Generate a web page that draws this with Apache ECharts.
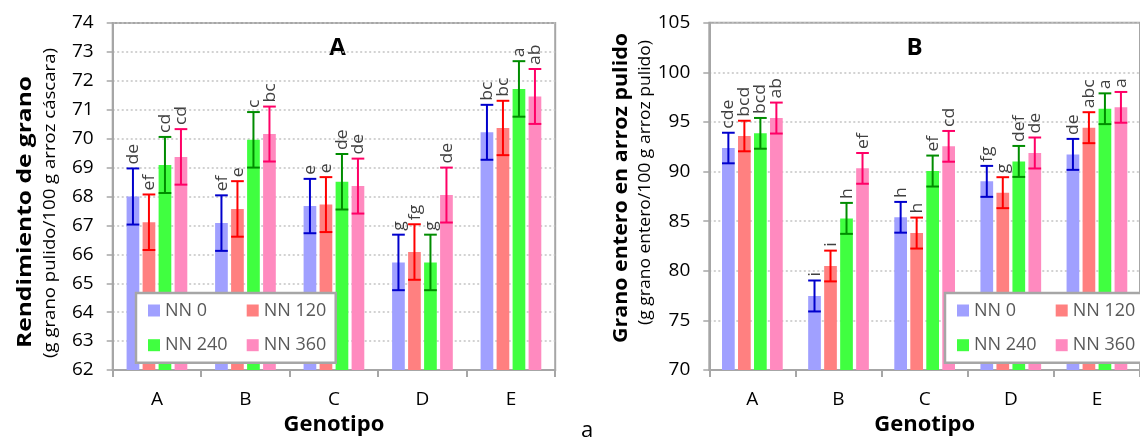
<!DOCTYPE html>
<html><head><meta charset="utf-8">
<script src="https://cdn.jsdelivr.net/npm/echarts@6/dist/echarts.min.js"></script>
<style>html,body{margin:0;padding:0;background:#fff;overflow:hidden}#c{width:1140px;height:444px}</style>
</head><body><div id="c"></div>
<script>
// ---------- data ----------
const categories = ['A', 'B', 'C', 'D', 'E'];
const seriesNames = ['NN 0', 'NN 120', 'NN 240', 'NN 360'];

// Panel A: Rendimiento de grano
const rendNN0   = [68.00, 67.08, 67.67, 65.72, 70.22];
const rendNN120 = [67.11, 67.57, 67.72, 66.08, 70.37];
const rendNN240 = [69.09, 69.96, 68.51, 65.72, 71.72];
const rendNN360 = [69.37, 70.16, 68.36, 68.05, 71.46];
const rendErr0   = [0.97, 0.96, 0.94, 0.96, 0.95];
const rendErr120 = [0.96, 0.96, 0.95, 0.96, 0.94];
const rendErr240 = [0.97, 0.96, 0.96, 0.96, 0.96];
const rendErr360 = [0.96, 0.95, 0.95, 0.95, 0.95];
const rendLab0   = ['de', 'ef', 'e', 'g', 'bc'];
const rendLab120 = ['ef', 'e', 'e', 'fg', 'bc'];
const rendLab240 = ['cd', 'c', 'de', 'g', 'a'];
const rendLab360 = ['cd', 'bc', 'de', 'de', 'ab'];

// Panel B: Grano entero en arroz pulido
const enteroNN0   = [92.37, 77.46, 85.39, 89.01, 91.73];
const enteroNN120 = [93.58, 80.48, 83.80, 87.87, 94.42];
const enteroNN240 = [93.85, 85.28, 90.05, 91.02, 96.33];
const enteroNN360 = [95.39, 90.32, 92.54, 91.87, 96.47];
const enteroErr0   = [1.54, 1.56, 1.55, 1.56, 1.56];
const enteroErr120 = [1.54, 1.55, 1.56, 1.56, 1.56];
const enteroErr240 = [1.55, 1.56, 1.56, 1.56, 1.55];
const enteroErr360 = [1.56, 1.55, 1.55, 1.56, 1.55];
const enteroLab0   = ['cde', 'i', 'h', 'fg', 'de'];
const enteroLab120 = ['bcd', 'i', 'h', 'g', 'abc'];
const enteroLab240 = ['bcd', 'h', 'ef', 'def', 'a'];
const enteroLab360 = ['ab', 'ef', 'cd', 'de', 'a'];

const axisTicksA = {min: 62, max: 74, interval: 1};
const axisTicksB = {min: 70, max: 105, interval: 5};

// ---------- style ----------
const FONT = '"Open Sans", "Liberation Sans", sans-serif';
const barColors = ['#A0A0FF', '#FF8080', '#40FF40', '#FF8ABF'];
const errColors = ['#0000CC', '#FF0000', '#008C00', '#FF0066'];
const BAR_W = 12.7, GAP = 0.26;
const GRAY = '#A6A6A6';

function measure(txt, font) {
  const ctx = document.createElement('canvas').getContext('2d');
  ctx.font = font;
  return ctx.measureText(txt).width;
}

function barSeries(g, k, vals) {
  return {
    type: 'bar', name: seriesNames[k], xAxisIndex: g, yAxisIndex: g,
    data: vals, barWidth: BAR_W, barGap: (GAP * 100) + '%',
    itemStyle: {color: barColors[k]}, z: 2, silent: true
  };
}

function errSeries(g, k, vals, errs, labs) {
  return {
    type: 'custom', name: 'err' + g + k, xAxisIndex: g, yAxisIndex: g, z: 5, silent: true,
    encode: {x: 0, y: 1},
    data: vals.map((v, i) => [i, v, errs[i]]),
    renderItem: function (params, api) {
      const i = api.value(0), v = api.value(1), e = api.value(2);
      const hi = api.coord([i, v + e]), lo = api.coord([i, v - e]);
      const x = hi[0] + (k - 1.5) * BAR_W * (1 + GAP);
      const hw = BAR_W / 2;
      const ls = {stroke: errColors[k], lineWidth: 2};
      return {
        type: 'group',
        children: [
          {type: 'line', shape: {x1: x, y1: hi[1], x2: x, y2: lo[1]}, style: ls},
          {type: 'line', shape: {x1: x - hw, y1: hi[1], x2: x + hw, y2: hi[1]}, style: ls},
          {type: 'line', shape: {x1: x - hw, y1: lo[1], x2: x + hw, y2: lo[1]}, style: ls},
          {type: 'text', x: x + 0.5, y: hi[1] - 4, rotation: Math.PI / 2, scaleX: 1.1,
           style: {text: labs[params.dataIndex], fill: '#404040', font: '16px ' + FONT,
                   align: 'left', verticalAlign: 'middle'}}
        ]
      };
    }
  };
}

function xAxisCfg(g) {
  return {
    gridIndex: g, type: 'category', data: categories, boundaryGap: true,
    axisLine: {lineStyle: {color: GRAY, width: 2}},
    axisTick: {show: true, length: 7, lineStyle: {color: GRAY, width: 2}},
    axisLabel: {fontSize: 19, color: '#000', margin: 20, fontFamily: FONT},
    name: 'Genotipo', nameLocation: 'middle', nameGap: 43,
    nameTextStyle: {fontSize: 22, fontWeight: 'bold', color: '#000', fontFamily: FONT}
  };
}
function yAxisCfg(g, t) {
  return {
    gridIndex: g, type: 'value', min: t.min, max: t.max, interval: t.interval,
    axisLine: {show: true, lineStyle: {color: GRAY, width: 2}},
    axisTick: {show: true, length: 6, lineStyle: {color: GRAY, width: 1.5}},
    axisLabel: {fontSize: 19, color: '#000', margin: 19, fontFamily: FONT},
    splitLine: {show: true, lineStyle: {color: '#C4C4C4', width: 1.5, type: [2, 2.5]}}
  };
}
function legendCfg(left) {
  return {
    data: seriesNames, left: left, top: 293, width: 190, orient: 'horizontal',
    itemWidth: 12, itemHeight: 12, itemGap: 11.7, icon: 'rect',
    padding: [6, 2, 6, 12], backgroundColor: '#fff', borderColor: GRAY, borderWidth: 2.5,
    selectedMode: false,
    textStyle: {fontFamily: FONT, fontSize: 18, color: '#595959', width: 70, lineHeight: 23}
  };
}

function vTitle(text, cx, cy, len, font) {
  const s = len / measure(text, font);
  return {
    type: 'text', x: cx, y: cy, rotation: Math.PI / 2, scaleX: s,
    style: {text: text, font: font, fill: '#000', align: 'center', verticalAlign: 'middle'}
  };
}

const boldF = 'bold 20px ' + FONT;
const subF = '16px ' + FONT;

const option = {
  animation: false,
  backgroundColor: '#fff',
  grid: [
    {left: 112.7, top: 23, width: 442.5, height: 347, show: true, borderColor: GRAY, borderWidth: 2, containLabel: false},
    {left: 709.3, top: 22.7, width: 442.5, height: 347.3, show: true, borderColor: GRAY, borderWidth: 2, containLabel: false}
  ],
  xAxis: [xAxisCfg(0), xAxisCfg(1)],
  yAxis: [yAxisCfg(0, axisTicksA), yAxisCfg(1, axisTicksB)],
  legend: [legendCfg(136), legendCfg(945)],
  series: [
    barSeries(0, 0, rendNN0), barSeries(0, 1, rendNN120), barSeries(0, 2, rendNN240), barSeries(0, 3, rendNN360),
    barSeries(1, 0, enteroNN0), barSeries(1, 1, enteroNN120), barSeries(1, 2, enteroNN240), barSeries(1, 3, enteroNN360),
    errSeries(0, 0, rendNN0, rendErr0, rendLab0), errSeries(0, 1, rendNN120, rendErr120, rendLab120),
    errSeries(0, 2, rendNN240, rendErr240, rendLab240), errSeries(0, 3, rendNN360, rendErr360, rendLab360),
    errSeries(1, 0, enteroNN0, enteroErr0, enteroLab0), errSeries(1, 1, enteroNN120, enteroErr120, enteroLab120),
    errSeries(1, 2, enteroNN240, enteroErr240, enteroLab240), errSeries(1, 3, enteroNN360, enteroErr360, enteroLab360)
  ],
  graphic: [
    {type: 'text', x: 337.5, y: 48, style: {text: 'A', font: 'bold 24px ' + FONT, fill: '#000', align: 'center', verticalAlign: 'middle'}},
    {type: 'text', x: 914.5, y: 48, style: {text: 'B', font: 'bold 24px ' + FONT, fill: '#000', align: 'center', verticalAlign: 'middle'}},
    vTitle('Rendimiento de grano', 25, 212, 272, boldF),
    vTitle('(g grano pulido/100 g arroz cáscara)', 50, 203, 310, subF),
    vTitle('Grano entero en arroz pulido', 621, 188, 310, boldF),
    vTitle('(g grano entero/100 g arroz pulido)', 645, 182.5, 285, subF),
    {type: 'text', x: 587, y: 431, style: {text: 'a', font: '22px ' + FONT, fill: '#000', align: 'center', verticalAlign: 'middle'}}
  ]
};

const chart = echarts.init(document.getElementById('c'), null, {renderer: 'canvas'});
chart.setOption(option);
</script>
</body></html>
